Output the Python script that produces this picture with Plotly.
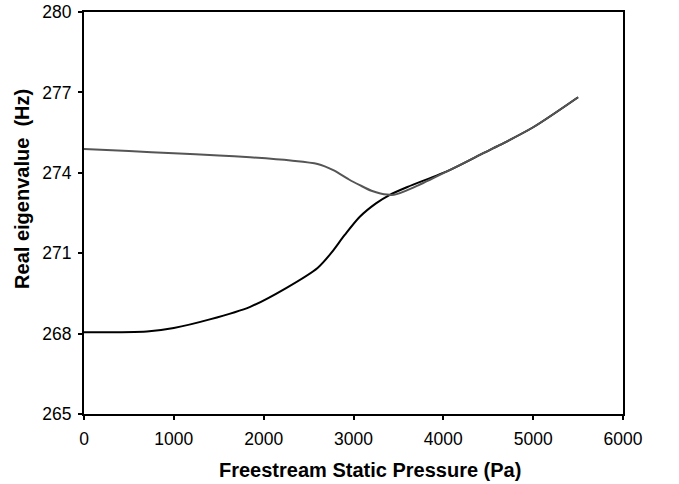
import plotly.graph_objects as go

# Upper (gray) branch
gray_x = [0, 500, 1000, 1500, 1850, 2300, 2600, 2775, 2950, 3070, 3200, 3300, 3450, 3700, 4070, 4450, 4630, 5000, 5500]
gray_y = [274.89, 274.81, 274.73, 274.65, 274.58, 274.46, 274.33, 274.10, 273.75, 273.54, 273.33, 273.23, 273.18, 273.50, 274.10, 274.74, 275.04, 275.70, 276.82]

# Lower (black) branch
black_x = [0, 700, 1000, 1400, 1850, 2250, 2600, 2750, 2900, 3070, 3250, 3400, 3600, 4070, 4450, 4630, 5000, 5500]
black_y = [268.05, 268.08, 268.21, 268.53, 269.00, 269.70, 270.45, 271.00, 271.67, 272.36, 272.86, 273.17, 273.47, 274.10, 274.74, 275.04, 275.70, 276.82]

x_ticks = [0, 1000, 2000, 3000, 4000, 5000, 6000]
y_ticks = [265, 268, 271, 274, 277, 280]

x_title = "Freestream Static Pressure (Pa)"
y_title = "Real eigenvalue\u00a0 (Hz)"

FONT = "Liberation Sans, Arial, sans-serif"

fig = go.Figure()
fig.add_trace(go.Scatter(x=black_x, y=black_y, mode="lines",
                         line=dict(color="#000000", width=2, shape="spline", smoothing=0.8), showlegend=False))
fig.add_trace(go.Scatter(x=gray_x, y=gray_y, mode="lines",
                         line=dict(color="#555555", width=2, shape="spline", smoothing=0.8), showlegend=False))

tick_font = dict(family=FONT, size=17.5, color="#000")
fig.update_layout(
    width=679, height=484,
    margin=dict(l=84, r=56, t=12, b=70, autoexpand=False),
    paper_bgcolor="white", plot_bgcolor="white",
    font=dict(family=FONT, color="#000"),
    xaxis=dict(range=[0, 6000], tickvals=x_ticks, showgrid=False, zeroline=False,
               showline=True, linecolor="#000", linewidth=2, mirror=True,
               ticks="outside", ticklen=4, tickwidth=2, tickcolor="#000",
               tickfont=tick_font, ticklabelstandoff=4, automargin=False),
    yaxis=dict(range=[265, 280], tickvals=y_ticks, showgrid=False, zeroline=False,
               showline=True, linecolor="#000", linewidth=2, mirror=True,
               ticks="outside", ticklen=4, tickwidth=2, tickcolor="#000",
               tickfont=tick_font, ticklabelstandoff=3, automargin=False),
    annotations=[
        dict(text="<b>" + x_title + "</b>", xref="paper", yref="paper",
             x=0.5306, y=-0.139, xanchor="center", yanchor="middle", showarrow=False,
             font=dict(family=FONT, size=20, color="#000")),
        dict(text="<b>" + y_title + "</b>", xref="paper", yref="paper",
             x=-0.115, y=0.56, xanchor="center", yanchor="middle", showarrow=False, textangle=-90,
             font=dict(family=FONT, size=20, color="#000")),
    ],
)
fig.write_html("out.html")
